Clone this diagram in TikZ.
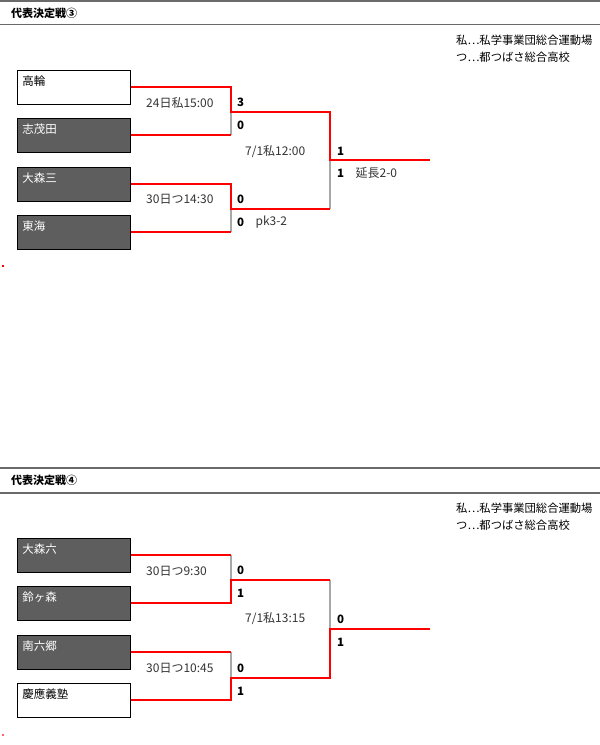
\documentclass[tikz,border=0pt]{standalone}
\usepackage{fontspec}
\setmainfont{Noto Sans CJK JP}
\usepackage{xcolor}
\usetikzlibrary{positioning}

\definecolor{boxgray}{HTML}{5E5E5E}
\definecolor{rulegray}{HTML}{6A6A6A}
\definecolor{losegray}{HTML}{A8A8A8}

\begin{document}
\begin{tikzpicture}[x=1pt,y=-1pt]
\tikzset{teambox/.style={draw=black,line width=0.8pt,anchor=north west,align=left,
  text width=103pt,text height=12pt,text depth=16pt,inner xsep=5pt,inner ysep=3pt,
  font=\fontsize{11.5}{13}\selectfont}}
\tikzset{darkteam/.style={teambox,fill=boxgray,text=white}}
\tikzset{lightteam/.style={teambox,fill=white,text=black}}
\tikzset{hdrline/.style={draw=rulegray,line width=1.6pt}}
\tikzset{hdr/.style={anchor=west,inner sep=0pt,font=\fontsize{11}{13}\selectfont\bfseries}}
\tikzset{note/.style={anchor=west,inner sep=0pt,font=\fontsize{11.3}{13}\selectfont}}
\tikzset{match/.style={anchor=west,inner sep=0pt,text=black!80,font=\fontsize{12}{14}\selectfont}}
\tikzset{score/.style={anchor=west,inner sep=0pt,font=\fontsize{11.5}{13}\selectfont\bfseries}}
\tikzset{winline/.style={draw=red,line width=2pt}}
\tikzset{loseline/.style={draw=losegray,line width=1.2pt}}

\useasboundingbox (0,0) rectangle (600,745);

% 代表決定戦③
\draw[hdrline] (0,0.8) -- (600,0.8);
\node[hdr] (head3) at (11,13) {代表決定戦③};
\draw[hdrline] (0,24.5) -- (600,24.5);
\node[note] (note3a) at (456,40) {私⋯私学事業団総合運動場};
\node[note] (note3b) at (456,57) {つ⋯都つばさ総合高校};

\node[lightteam] (takanawa) at (17,70) {高輪};
\node[darkteam] (shigeta) at (17,118) {志茂田};
\node[darkteam] (omori3) at (17,167) {大森三};
\node[darkteam] (tokai) at (17,215) {東海};

\coordinate (m1) at (231,112);
\coordinate (m2) at (231,209);
\coordinate (f3) at (330,160);
\coordinate (w3) at (430,160);

\draw[loseline] (shigeta.east -| m1) -- (m1);
\draw[loseline] (tokai.east -| m2) -- (m2);
\draw[loseline] (m2 -| f3) -- (f3);
\draw[winline] (takanawa.east) -| (m1) -- (m1 -| f3) -- (f3) -- (w3);
\draw[winline] (shigeta.east) -- (shigeta.east -| m1);
\draw[winline] (omori3.east) -| (m2) -- (m2 -| f3);
\draw[winline] (tokai.east) -- (tokai.east -| m2);

\node[match] (g1) at ([shift={(-85,-9)}]m1) {24日私15:00};
\node[score] (g1a) at ([shift={(6,-10)}]m1) {3};
\node[score] (g1b) at ([shift={(6,13)}]m1) {0};
\node[match] (g2) at ([shift={(-85,-10)}]m2) {30日つ14:30};
\node[score] (g2a) at ([shift={(6,-10)}]m2) {0};
\node[score] (g2b) at ([shift={(6,13)}]m2) {0};
\node[match, right=11pt of g2b] (g2x) {pk3-2};
\node[match] (g3) at ([shift={(-85,-8)}]f3) {7/1私12:00};
\node[score] (g3a) at ([shift={(7,-9)}]f3) {1};
\node[score] (g3b) at ([shift={(7,13)}]f3) {1};
\node[match, right=11pt of g3b] (g3x) {延長2-0};

\fill[red] (2,265) rectangle (3.5,266.5);

% 代表決定戦④
\draw[hdrline] (0,468) -- (600,468);
\node[hdr] (head4) at (11,480) {代表決定戦④};
\draw[hdrline] (0,493) -- (600,493);
\node[note] (note4a) at (456,508) {私⋯私学事業団総合運動場};
\node[note] (note4b) at (456,525) {つ⋯都つばさ総合高校};

\node[darkteam] (omori6) at (17,538) {大森六};
\node[darkteam] (suzu) at (17,586) {鈴ヶ森};
\node[darkteam] (minami) at (17,635) {南六郷};
\node[lightteam] (keio) at (17,683) {慶應義塾};

\coordinate (m3) at (231,580);
\coordinate (m4) at (231,678);
\coordinate (f4) at (330,629);
\coordinate (w4) at (430,629);

\draw[loseline] (omori6.east -| m3) -- (m3);
\draw[loseline] (minami.east -| m4) -- (m4);
\draw[loseline] (m3 -| f4) -- (f4);
\draw[winline] (omori6.east) -- (omori6.east -| m3);
\draw[winline] (suzu.east) -| (m3) -- (m3 -| f4);
\draw[winline] (minami.east) -- (minami.east -| m4);
\draw[winline] (keio.east) -| (m4) -- (m4 -| f4) -- (f4) -- (w4);

\node[match] (g4) at ([shift={(-85,-9)}]m3) {30日つ9:30};
\node[score] (g4a) at ([shift={(6,-10)}]m3) {0};
\node[score] (g4b) at ([shift={(6,13)}]m3) {1};
\node[match] (g5) at ([shift={(-85,-10)}]m4) {30日つ10:45};
\node[score] (g5a) at ([shift={(6,-10)}]m4) {0};
\node[score] (g5b) at ([shift={(6,13)}]m4) {1};
\node[match] (g6) at ([shift={(-85,-10)}]f4) {7/1私13:15};
\node[score] (g6a) at ([shift={(7,-10)}]f4) {0};
\node[score] (g6b) at ([shift={(7,13)}]f4) {1};

\fill[red!60] (2,734) rectangle (3.5,735.5);
\end{tikzpicture}
\end{document}
